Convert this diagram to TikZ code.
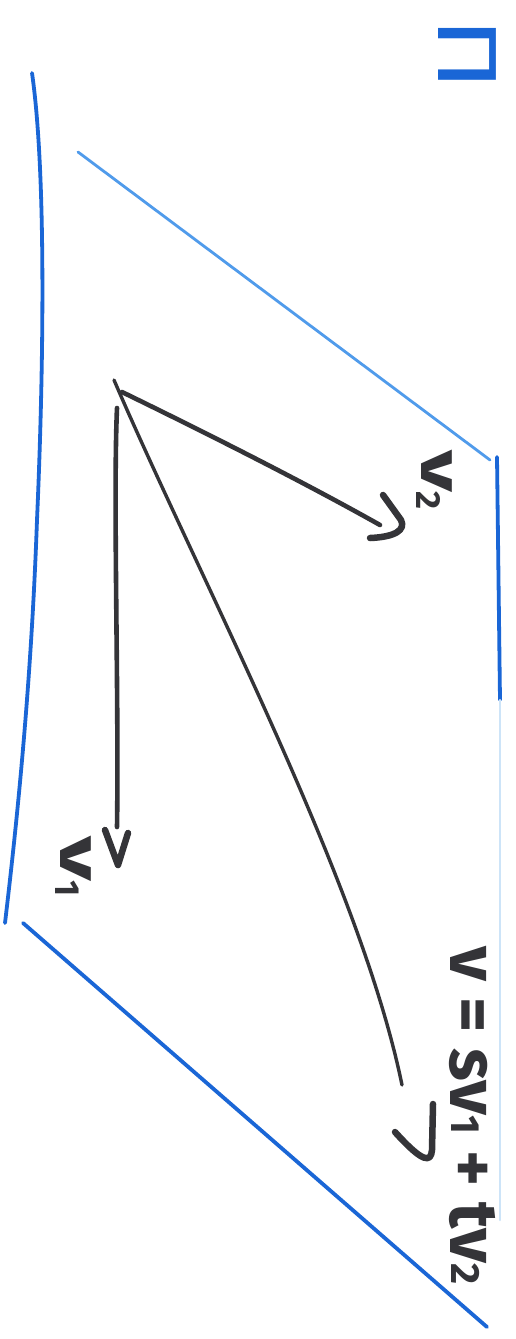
\documentclass[tikz,border=0pt]{standalone}
\usepackage{fontspec}
\setmainfont{Fira Sans}
\newcommand{\lowsub}[1]{\raisebox{-0.08em}{\fontsize{0.6em}{0.6em}\selectfont #1}}
\newcommand{\eqsub}[1]{\raisebox{0.02em}{\fontsize{0.6em}{0.6em}\selectfont #1}}
\begin{document}
\begin{tikzpicture}[x=1pt,y=-1pt,
  plane/.style={draw=planeblue,line width=3.8pt,line cap=round},
  vecline/.style={draw=ink,line width=4.6pt,line cap=round,line join=round},
  headstroke/.style={draw=ink,line width=6.5pt,line cap=round,line join=round},
  lbl/.style={text=ink,font=\bfseries\fontsize{58}{60}\selectfont,inner sep=0pt,rotate=-90},
  eqn/.style={text=ink,font=\bfseries\fontsize{68}{70}\selectfont,inner sep=0pt,rotate=-90},
  planelbl/.style={text=planeblue,font=\fontsize{84}{86}\selectfont,inner sep=0pt,rotate=-90}]
\definecolor{planeblue}{RGB}{26,102,214}
\definecolor{planelight}{RGB}{80,155,235}
\definecolor{planefaint}{RGB}{205,228,248}
\definecolor{ink}{RGB}{52,52,56}
\useasboundingbox[fill=white] (0,0) rectangle (515,1339);

% plane corners
\coordinate (TL) at (32,73);
\coordinate (LM) at (37,520);
\coordinate (BL) at (5,923);
\coordinate (BLb) at (23,923);
\coordinate (BR) at (487,1327);
\coordinate (TLd) at (78,152);
\coordinate (TRd) at (490,460);
\coordinate (TR) at (497,457);
\coordinate (Rmid) at (500,700);
\coordinate (Rend) at (500,1220);

% plane edges
\draw[plane] (TL) .. controls (46,170) and (44,360) .. (LM) .. controls (31,690) and (16,830) .. (BL);
\draw[plane,draw=planelight,line width=2.8pt] (TLd) -- (TRd);
\draw[plane] (TR) -- (Rmid);
\draw[plane,draw=planefaint,line width=2.2pt] (Rmid) -- (Rend);
\draw[plane] (BLb) -- (BR);

% vectors
\coordinate (O) at (114,380);
\coordinate (v2s) at (122,392);
\coordinate (v1s) at (117,408);
\coordinate (v1e) at (117,827);
\coordinate (v2e) at (380,525);
\coordinate (ve) at (402,1085);

\draw[vecline] (v1s) .. controls (113,500) and (119,700) .. (v1e);
\draw[vecline] (v2s) .. controls (200,430) and (300,480) .. (v2e);
\draw[vecline,line width=3.4pt] (O) .. controls (200,580) and (360,880) .. (ve);

% hand-drawn arrow heads
\coordinate (h1a) at (105,830);
\coordinate (h1t) at (118,865);
\coordinate (h1b) at (128,833);
\draw[headstroke] (h1a) -- (h1t) -- (h1b);

\coordinate (h2a) at (383,495);
\coordinate (h2t) at (401,520);
\coordinate (h2b) at (370,538);
\draw[headstroke] (h2a) -- (h2t) .. controls (406,530) and (395,537) .. (h2b);

\coordinate (h3a) at (433,1104);
\coordinate (h3t) at (432,1150);
\coordinate (h3b) at (395,1132);
\draw[headstroke] (h3a) -- (h3t) .. controls (431,1163) and (423,1163) .. (h3b);

% labels
\node[lbl,anchor=base west] (L1) at (60,836) {\scalebox{1.5}[1]{v}\lowsub{1}};
\node[lbl,anchor=base west] (L2) at (421,450) {\scalebox{1.4}[1]{v}\lowsub{2}};
\node[eqn,anchor=base west] (LE) at (450,946) {v = sv\eqsub{1} + tv\eqsub{2}};
\node[planelbl] (PI) at (467,54) {\scalebox{1.3}[1]{Π}};
\end{tikzpicture}
\end{document}
